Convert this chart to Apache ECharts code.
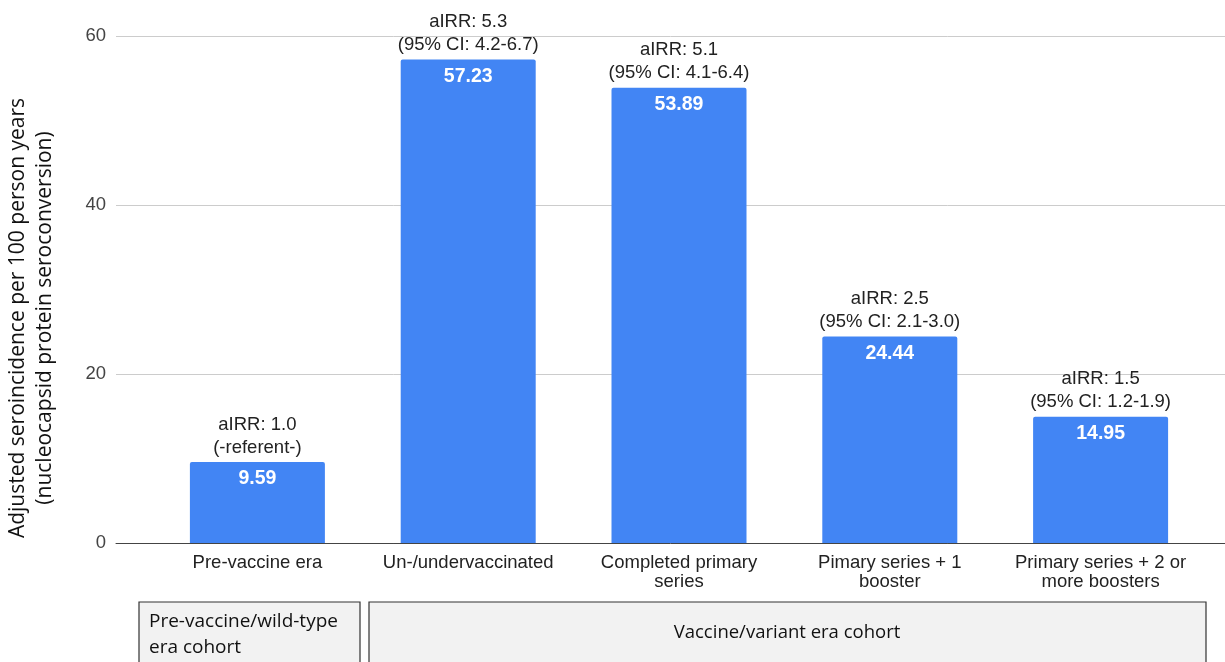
<!DOCTYPE html>
<html>
<head>
<meta charset="utf-8">
<script src="https://cdn.jsdelivr.net/npm/echarts@6/dist/echarts.min.js"></script>
<style>
html,body{margin:0;padding:0;background:#fff;}
#c{width:1225px;height:662px;}
</style>
</head>
<body>
<div id="c"></div>
<script>
const categories = ['Pre-vaccine era', 'Un-/undervaccinated', 'Completed primary\nseries', 'Pimary series + 1\nbooster', 'Primary series + 2 or\nmore boosters'];
const values = [9.59, 57.23, 53.89, 24.44, 14.95];
const airrLabels = ['aIRR: 1.0', 'aIRR: 5.3', 'aIRR: 5.1', 'aIRR: 2.5', 'aIRR: 1.5'];
const ciLabels = ['(-referent-)', '(95% CI: 4.2-6.7)', '(95% CI: 4.1-6.4)', '(95% CI: 2.1-3.0)', '(95% CI: 1.2-1.9)'];
const yMin = 0, yMax = 60, yInterval = 20;
const yTitle = ['Adjusted seroincidence per 100 person years', '(nucleocapsid protein seroconversion)'];
const cohortLabels = ['Pre-vaccine/wild-type\nera cohort', 'Vaccine/variant era cohort'];

const chart = echarts.init(document.getElementById('c'));
const sans = 'Liberation Sans, Arial, sans-serif';
const human = 'Open Sans, Noto Sans, sans-serif';

chart.setOption({
  animation: false,
  backgroundColor: '#fff',
  grid: [
    {left: 116, right: 0, top: 36, bottom: 119},
    {left: 152, right: 19, top: 36, bottom: 119}
  ],
  xAxis: [
    {gridIndex: 0, type: 'value', min: 0, max: 1,
     axisLine: {show: true, lineStyle: {color: '#444', width: 1}},
     axisTick: {show: false}, axisLabel: {show: false}, splitLine: {show: false}},
    {gridIndex: 1, type: 'category', data: categories,
     axisLine: {show: false}, axisTick: {show: false},
     axisLabel: {color: '#222', fontFamily: sans, fontSize: 18.5, lineHeight: 19, margin: 10, interval: 0}}
  ],
  yAxis: [
    {gridIndex: 0, type: 'value', min: yMin, max: yMax, interval: yInterval,
     axisLine: {show: false}, axisTick: {show: false},
     axisLabel: {color: '#444', fontFamily: sans, fontSize: 18.5, margin: 10},
     splitLine: {lineStyle: {color: '#cccccc', width: 1}}},
    {gridIndex: 1, type: 'value', min: yMin, max: yMax, interval: yInterval, show: false, splitLine: {show: false}}
  ],
  series: [
    {type: 'bar', xAxisIndex: 1, yAxisIndex: 1, data: values, barWidth: 135,
     itemStyle: {color: '#4285F4', borderRadius: [2, 2, 0, 0]},
     label: {show: true, position: 'insideTop', distance: 7, color: '#fff', fontWeight: 'bold',
             fontFamily: sans, fontSize: 19.5, lineHeight: 20,
             formatter: p => p.value.toFixed(2)}},
    {type: 'bar', xAxisIndex: 1, yAxisIndex: 1, data: values, barWidth: 135, barGap: '-100%',
     itemStyle: {color: 'rgba(0,0,0,0)'}, silent: true,
     label: {show: true, position: 'top', distance: 3, color: '#222', fontFamily: sans,
             fontSize: 18.5, lineHeight: 23,
             formatter: p => airrLabels[p.dataIndex] + '\n' + ciLabels[p.dataIndex]}}
  ],
  graphic: [
    {type: 'text', x: 18, y: 318, rotation: Math.PI / 2,
     style: {text: yTitle[0], fill: '#111', font: '21px ' + human, textAlign: 'center', textVerticalAlign: 'middle'}},
    {type: 'text', x: 45, y: 318, rotation: Math.PI / 2,
     style: {text: yTitle[1], fill: '#111', font: '21px ' + human, textAlign: 'center', textVerticalAlign: 'middle'}},
    {type: 'rect', shape: {x: 139, y: 602, width: 221, height: 80},
     style: {fill: '#f2f2f2', stroke: '#333', lineWidth: 1.2}},
    {type: 'rect', shape: {x: 369, y: 602, width: 837, height: 80},
     style: {fill: '#f2f2f2', stroke: '#333', lineWidth: 1.2}},
    {type: 'text', x: 149, y: 635,
     style: {text: cohortLabels[0], fill: '#111', font: '19px ' + human, lineHeight: 26, textAlign: 'left', textVerticalAlign: 'middle'}},
    {type: 'text', x: 787, y: 633,
     style: {text: cohortLabels[1], fill: '#111', font: '18.5px ' + human, textAlign: 'center', textVerticalAlign: 'middle'}}
  ]
});
</script>
</body>
</html>
